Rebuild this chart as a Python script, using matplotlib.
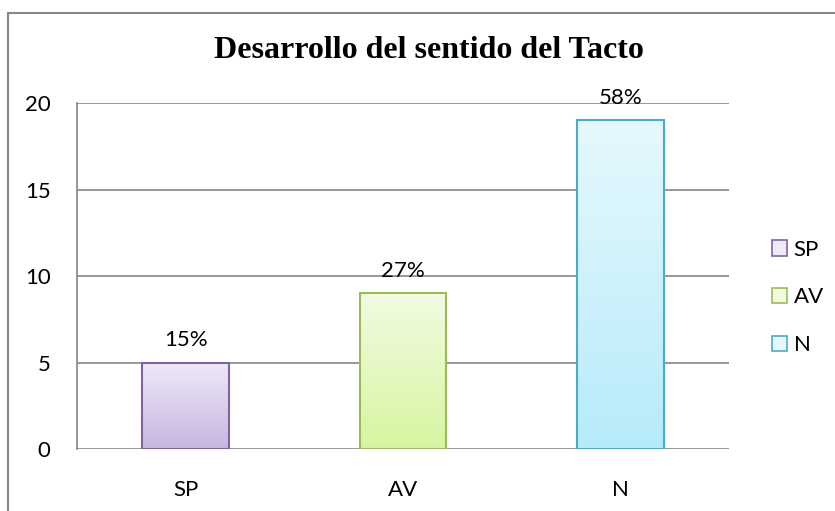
import numpy as np
import matplotlib
matplotlib.use("Agg")
import matplotlib.pyplot as plt
from matplotlib.colors import LinearSegmentedColormap
from matplotlib.lines import Line2D

# Data
categories = ["SP", "AV", "N"]
values = [5, 9, 19]
pct_labels = ["15%", "27%", "58%"]
yticks = [0, 5, 10, 15, 20]

# colours (top of gradient, bottom of gradient, edge)
grad_top = ["#efe9f7", "#f2fbe2", "#e6f8fd"]
grad_bot = ["#c8b6e3", "#d6f5a0", "#b6ebfa"]
edges = ["#8064a2", "#9bbb59", "#4bacc6"]

plt.rcParams["font.family"] = ["Lato", "DejaVu Sans"]

fig = plt.figure(figsize=(8.35, 5.11), dpi=100)
ax = fig.add_axes([77 / 835, 1 - 449 / 511, (729 - 77) / 835, (449 - 103) / 511])

x = np.arange(len(categories))
w = 0.4
grad = np.linspace(0, 1, 256).reshape(-1, 1)

for i, v in enumerate(values):
    cmap = LinearSegmentedColormap.from_list("g%d" % i, [grad_top[i], grad_bot[i]])
    ax.imshow(grad, cmap=cmap, aspect="auto", origin="upper",
              extent=(x[i] - w / 2, x[i] + w / 2, 0, v), zorder=2)
ax.bar(x, values, width=w, facecolor="none", edgecolor=edges, linewidth=1.5,
       zorder=3)

for i, v in enumerate(values):
    ax.text(x[i], v + 0.7, pct_labels[i], ha="center", va="bottom", fontsize=16)

ax.set_xlim(-0.5, len(categories) - 0.5)
ax.set_ylim(0, 20)
ax.set_yticks(yticks)
ax.set_xticks(x)
ax.set_xticklabels(categories)
ax.tick_params(axis="both", length=0, labelsize=16)
ax.tick_params(axis="y", pad=19)
ax.tick_params(axis="x", pad=22)

ax.yaxis.grid(True, color="#868686", linewidth=1.2, zorder=0)
ax.set_axisbelow(True)
for s in ["top", "right", "bottom"]:
    ax.spines[s].set_visible(False)
ax.spines["left"].set_color("#868686")
ax.spines["left"].set_linewidth(1.2)

fig.text(0.514, 0.902, "Desarrollo del sentido del Tacto", ha="center", va="center",
         fontsize=23, fontweight="bold", family="Liberation Serif")

# legend
handles = [plt.Rectangle((0, 0), 1, 1, facecolor=grad_top[i], edgecolor=edges[i],
                         linewidth=1.2) for i in range(len(categories))]
fig.legend(handles, categories, loc="center left", bbox_to_anchor=(0.900, 0.418),
           frameon=False, fontsize=16, handlelength=0.7, handleheight=0.7,
           handletextpad=0.3, labelspacing=1.25)

# outer chart border (only top and left visible)
fig.add_artist(Line2D([8 / 835, 8 / 835], [0, 1 - 13 / 511], transform=fig.transFigure,
                      color="#868686", linewidth=1.5))
fig.add_artist(Line2D([8 / 835, 1], [1 - 13 / 511, 1 - 13 / 511], transform=fig.transFigure,
                      color="#868686", linewidth=1.5))

fig.savefig("out.png", dpi=100, facecolor="white")
